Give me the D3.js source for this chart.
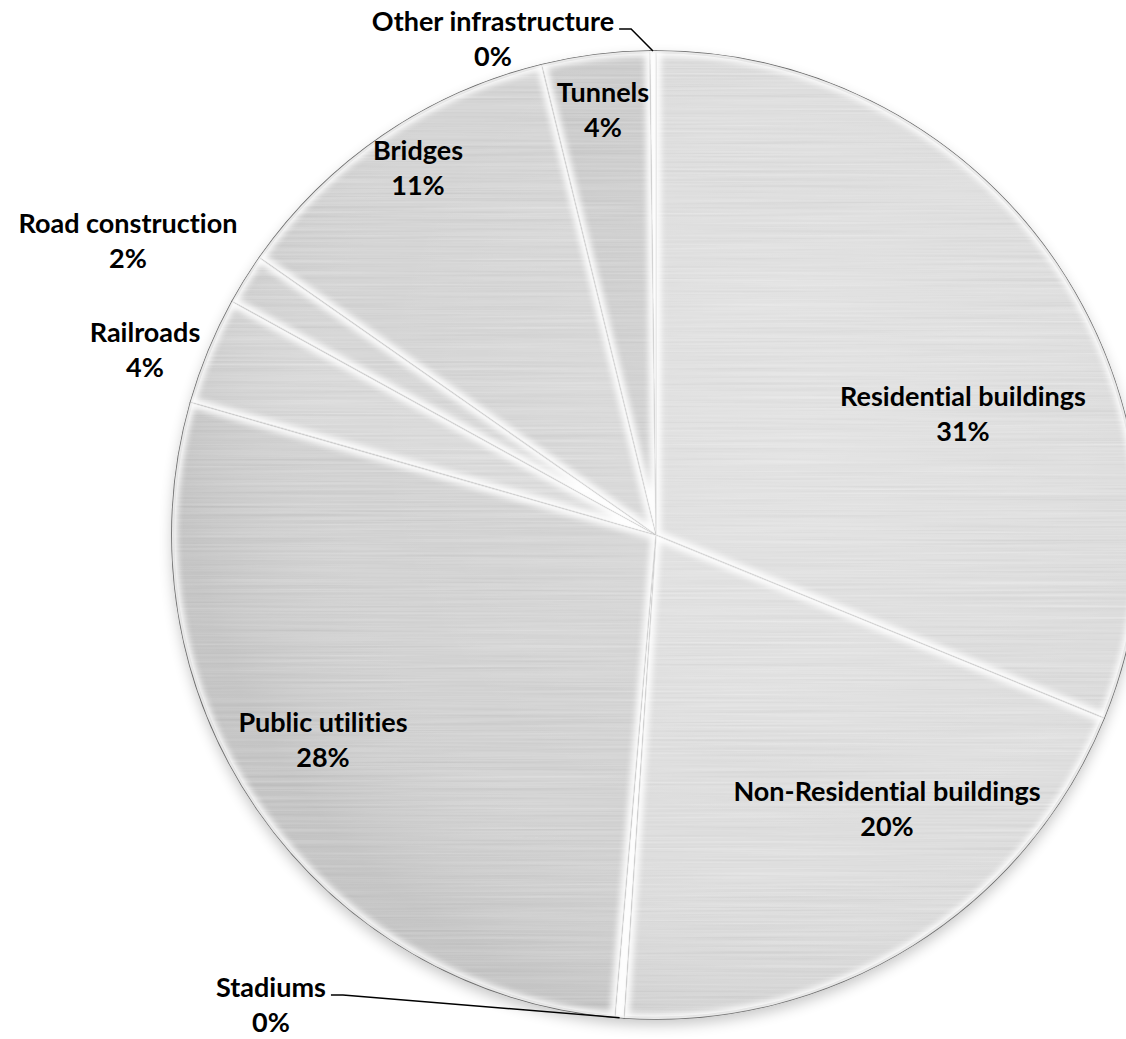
<!DOCTYPE html>
<html>
<head>
<meta charset="utf-8">
<script src="https://cdn.jsdelivr.net/npm/d3@7"></script>
<style>
  body { margin: 0; background: #fff; }
  svg { display: block; }
</style>
</head>
<body>
<svg id="chart" width="1126" height="1039"></svg>
<script>
// data (clockwise from 12 o'clock)
const categories = [
  "Residential buildings", "Non-Residential buildings", "Stadiums",
  "Public utilities", "Railroads", "Road construction",
  "Bridges", "Tunnels", "Other infrastructure"
];
const values = [31.2, 19.9, 0.3, 28.1, 3.6, 1.7, 11.5, 3.6, 0.2];
const pctLabels = ["31%", "20%", "0%", "28%", "4%", "2%", "11%", "4%", "0%"];

// layout (label anchors: centre x, first baseline)
const labelAnchors = [
  [963, 406], [887, 801], [271, 997], [323, 732], [145, 342],
  [128, 233], [418, 160], [603, 102], [493, 31]
];
const leaderSlices = [2, 8];
const sliceFills = ["#dcdcdc", "#dedede", "#d8d8d8", "#d3d3d3", "#dadada",
                    "#d7d7d7", "#d5d5d5", "#cccccc", "#d0d0d0"];

const width = 1126, height = 1039;
const cx = 656, cy = 535, radius = 484;

const svg = d3.select("#chart");
const defs = svg.append("defs");

// brushed metal texture (region in the translated group's space)
const brush = defs.append("filter").attr("id", "brush")
  .attr("filterUnits", "userSpaceOnUse")
  .attr("x", -cx).attr("y", -cy).attr("width", width).attr("height", height);
brush.append("feTurbulence").attr("type", "fractalNoise")
  .attr("baseFrequency", "0.004 0.45").attr("numOctaves", 3).attr("seed", 7)
  .attr("result", "noise");
brush.append("feColorMatrix").attr("in", "noise").attr("type", "matrix")
  .attr("values", "0.33 0.33 0.33 0 0  0.33 0.33 0.33 0 0  0.33 0.33 0.33 0 0  0 0 0 0 1")
  .attr("result", "gray");
brush.append("feComposite").attr("in", "SourceGraphic").attr("in2", "gray")
  .attr("operator", "arithmetic").attr("k1", 0).attr("k2", 1).attr("k3", 0.28).attr("k4", -0.14)
  .attr("result", "mix");
brush.append("feComposite").attr("in", "mix").attr("in2", "SourceAlpha").attr("operator", "in");

// soft blur for highlights and shadow
defs.append("filter").attr("id", "glow")
  .attr("x", "-20%").attr("y", "-20%").attr("width", "140%").attr("height", "140%")
  .append("feGaussianBlur").attr("stdDeviation", 3);
defs.append("filter").attr("id", "shadow")
  .attr("x", "-20%").attr("y", "-20%").attr("width", "140%").attr("height", "140%")
  .append("feGaussianBlur").attr("stdDeviation", 7);

// sheen across the whole disc
const sheen = defs.append("radialGradient").attr("id", "sheen")
  .attr("gradientUnits", "userSpaceOnUse")
  .attr("cx", cx + 150).attr("cy", cy - 120).attr("r", radius * 1.3);
sheen.append("stop").attr("offset", "0%").attr("stop-color", "#fff").attr("stop-opacity", 0.22);
sheen.append("stop").attr("offset", "70%").attr("stop-color", "#fff").attr("stop-opacity", 0.0);
sheen.append("stop").attr("offset", "100%").attr("stop-color", "#000").attr("stop-opacity", 0.06);

const pie = d3.pie().sort(null).value(d => d);
const arcs = pie(values);
const arc = d3.arc().innerRadius(0).outerRadius(radius);

const g = svg.append("g").attr("transform", `translate(${cx},${cy})`);

// shadow under the disc
g.append("circle").attr("cx", 0).attr("cy", 6).attr("r", radius)
  .attr("fill", "#000").attr("opacity", 0.22).attr("filter", "url(#shadow)");

// slices with texture
const slices = g.append("g").attr("filter", "url(#brush)");
slices.selectAll("path")
  .data(arcs)
  .join("path")
  .attr("d", arc)
  .attr("fill", (d, i) => sliceFills[i]);

svg.append("circle").attr("cx", cx).attr("cy", cy).attr("r", radius)
  .attr("fill", "url(#sheen)");

// inner bevel highlight for each slice
arcs.forEach((d, i) => {
  defs.append("clipPath").attr("id", "clip" + i)
    .append("path").attr("d", arc(d)).attr("transform", `translate(${cx},${cy})`);
});
const bevel = svg.append("g");
arcs.forEach((d, i) => {
  bevel.append("g").attr("clip-path", `url(#clip${i})`)
    .append("path")
    .attr("transform", `translate(${cx},${cy})`)
    .attr("d", arc(d))
    .attr("fill", "none")
    .attr("stroke", "#fff")
    .attr("stroke-width", 10)
    .attr("opacity", 0.95)
    .attr("filter", "url(#glow)");
});

// groove lines between slices
g.append("g").selectAll("path")
  .data(arcs)
  .join("path")
  .attr("d", arc)
  .attr("fill", "none")
  .attr("stroke", "#666")
  .attr("stroke-width", 1.5)
  .attr("stroke-linejoin", "round");

// rim
g.append("circle").attr("r", radius - 1).attr("fill", "none")
  .attr("stroke", "#888").attr("stroke-width", 2.5);

// labels
const labels = svg.append("g")
  .attr("font-family", "Lato, 'Open Sans', sans-serif")
  .attr("font-weight", 700)
  .attr("font-size", 27)
  .attr("fill", "#000")
  .attr("text-anchor", "middle")
  .style("font-variant-ligatures", "none");

categories.forEach((name, i) => {
  const [x, y] = labelAnchors[i];
  const t = labels.append("text").attr("x", x).attr("y", y);
  t.append("tspan").attr("x", x).text(name);
  t.append("tspan").attr("x", x).attr("dy", 35).text(pctLabels[i]);
});

// leader lines for the tiny slices
leaderSlices.forEach(i => {
  const [x, y] = labelAnchors[i];
  const txt = labels.selectAll("text").filter((d, j) => j === i).node();
  const w = txt.getBBox().width;
  const a = (arcs[i].startAngle + arcs[i].endAngle) / 2;
  const ex = cx + radius * Math.sin(a), ey = cy - radius * Math.cos(a);
  const sx = x + w / 2 + 5, sy = y - 2;
  svg.append("path")
    .attr("d", d3.line()([[sx, sy], [sx + 12, sy], [ex, ey]]))
    .attr("fill", "none").attr("stroke", "#000").attr("stroke-width", 1.5);
});
</script>
</body>
</html>
